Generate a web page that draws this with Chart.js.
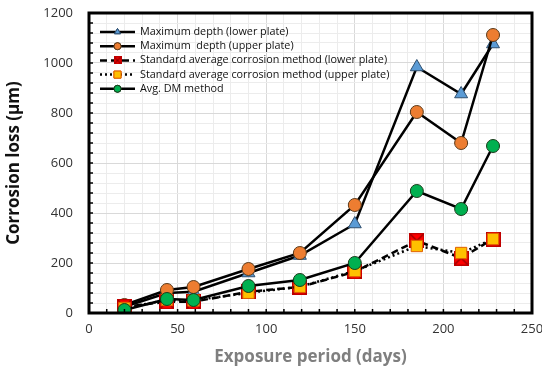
<!doctype html>
<html>
<head>
    <meta charset="utf-8" />
    <title>Corrosion loss</title>
    <script src="https://cdn.jsdelivr.net/npm/chart.js@4/dist/chart.umd.min.js"></script>
    <style>
        body { margin: 0; background: #fff; }
        #wrap { width: 542px; height: 371px; }
    </style>
</head>
<body>
<div id="wrap"><canvas id="lossChart" width="542" height="371"></canvas></div>
<script>
    // exposure period (days)
    var days = [20, 44, 59, 90, 119, 150, 185, 210, 228];
    var maxDepthLower = [25, 80, 85, 160, 230, 356, 984, 876, 1076];
    var maxDepthUpper = [32, 92, 104, 176, 240, 432, 804, 680, 1112];
    var stdLower = [25, 45, 45, 85, 104, 165, 289, 220, 296];
    var stdUpper = [20, 52, 50, 81, 105, 168, 268, 240, 296];
    var avgDM = [12, 56, 52, 108, 132, 200, 488, 416, 668];
    var xTicks = [0, 50, 100, 150, 200, 250];
    var yTicks = [0, 200, 400, 600, 800, 1000, 1200];

    var legendNames = [
        "Maximum depth (lower plate)",
        "Maximum  depth (upper plate)",
        "Standard average corrosion method (lower plate)",
        "Standard average corrosion method (upper plate)",
        "Avg. DM method"
    ];

    // red square with a cross, like the excel marker
    function crossSquare(size) {
        var c = document.createElement('canvas');
        c.width = size; c.height = size;
        var g = c.getContext('2d');
        g.fillStyle = '#ff0000';
        g.fillRect(0, 0, size, size);
        g.strokeStyle = '#8b0000';
        g.lineWidth = 1.2;
        g.beginPath();
        g.moveTo(1, 1); g.lineTo(size - 1, size - 1);
        g.moveTo(size - 1, 1); g.lineTo(1, size - 1);
        g.stroke();
        g.strokeStyle = '#c00000';
        g.strokeRect(0.5, 0.5, size - 1, size - 1);
        return c;
    }

    function pts(ys) {
        return days.map(function (d, i) { return { x: d, y: ys[i] }; });
    }

    var datasets = [
        {
            label: legendNames[0], data: pts(maxDepthLower), order: 4,
            borderColor: '#000', borderWidth: 2.5,
            pointStyle: 'triangle', pointRadius: 7.5,
            pointBackgroundColor: '#5b9bd5', pointBorderColor: '#2f4f6f', pointBorderWidth: 1
        },
        {
            label: legendNames[1], data: pts(maxDepthUpper), order: 3,
            borderColor: '#000', borderWidth: 2.5,
            pointStyle: 'circle', pointRadius: 6.5,
            pointBackgroundColor: '#ed7d31', pointBorderColor: '#5a3a1a', pointBorderWidth: 1
        },
        {
            label: legendNames[2], data: pts(stdLower), order: 2,
            borderColor: '#000', borderWidth: 2.5, borderDash: [7, 4],
            pointStyle: crossSquare(15), pointRadius: 7.5,
            pointBackgroundColor: '#ff0000', pointBorderColor: '#c00000'
        },
        {
            label: legendNames[3], data: pts(stdUpper), order: 1,
            borderColor: '#000', borderWidth: 2.5, borderDash: [2, 3],
            pointStyle: 'rect', pointRadius: 8,
            pointBackgroundColor: '#ffc000', pointBorderColor: '#e06000', pointBorderWidth: 1
        },
        {
            label: legendNames[4], data: pts(avgDM), order: 0,
            borderColor: '#000', borderWidth: 2.5,
            pointStyle: 'circle', pointRadius: 6.5,
            pointBackgroundColor: '#00b050', pointBorderColor: '#1a3a1a', pointBorderWidth: 1
        }
    ];

    // legend drawn inside the plot, top-left, with line + marker
    var insideLegend = {
        id: 'insideLegend',
        afterDraw: function (chart) {
            var ctx = chart.ctx;
            var x0 = 100, x1 = 135, tx = 140, y = 32, step = 14.2;
            ctx.save();
            datasets.forEach(function (ds, i) {
                var yy = y + i * step;
                ctx.strokeStyle = '#000';
                ctx.lineWidth = 2.5;
                ctx.setLineDash(ds.borderDash || []);
                ctx.beginPath();
                ctx.moveTo(x0, yy); ctx.lineTo(x1, yy);
                ctx.stroke();
                ctx.setLineDash([]);
                var style = ds.pointStyle;
                if (typeof style !== 'string') {
                    ctx.drawImage(crossSquare(8), (x0 + x1) / 2 - 4, yy - 4);
                } else {
                    ctx.fillStyle = ds.pointBackgroundColor;
                    ctx.strokeStyle = ds.pointBorderColor;
                    ctx.lineWidth = 1;
                    Chart.helpers.drawPoint(ctx, { pointStyle: style, radius: style === 'rect' ? 5 : 3.5, borderWidth: 1 }, (x0 + x1) / 2, yy);
                    ctx.fill();
                    ctx.stroke();
                }
                ctx.fillStyle = '#111';
                ctx.font = '10.8px "Open Sans"';
                ctx.textAlign = 'left';
                ctx.textBaseline = 'middle';
                ctx.fillText(ds.label, tx, yy);
            });
            ctx.restore();
        }
    };

    // frame and inward tick marks
    var frame = {
        id: 'frame',
        afterDatasetsDraw: function (chart) {
            var a = chart.chartArea, ctx = chart.ctx;
            var xs = chart.scales.x, ys = chart.scales.y;
            ctx.save();
            ctx.strokeStyle = '#000';
            ctx.lineWidth = 1.5;
            ctx.beginPath();
            for (var v = 10; v < 250; v += 10) {
                var px = xs.getPixelForValue(v);
                ctx.moveTo(px, a.bottom); ctx.lineTo(px, a.bottom - 4);
            }
            for (var w = 40; w < 1200; w += 40) {
                var py = ys.getPixelForValue(w);
                ctx.moveTo(a.left, py); ctx.lineTo(a.left + 4, py);
            }
            ctx.stroke();
            ctx.lineWidth = 3;
            ctx.strokeRect(a.left, a.top, a.right - a.left, a.bottom - a.top);
            ctx.restore();
        }
    };

    var ctx = document.getElementById('lossChart').getContext('2d');
    var lossChart = new Chart(ctx, {
        type: 'line',
        data: { datasets: datasets },
        options: {
            responsive: false,
            animation: false,
            layout: { padding: { top: 13, right: 6, left: 0, bottom: 0 } },
            plugins: { legend: { display: false }, tooltip: { enabled: false } },
            scales: {
                x: {
                    type: 'linear', min: 0, max: 250,
                    afterFit: function (s) { s.height = 58; s.paddingLeft = 0; s.paddingRight = 0; },
                    afterBuildTicks: function (s) {
                        var t = [];
                        for (var v = 0; v <= 250; v += 10) t.push({ value: v });
                        s.ticks = t;
                    },
                    ticks: {
                        autoSkip: false, maxRotation: 0, padding: 8,
                        color: '#333', font: { family: 'Open Sans', size: 13 },
                        callback: function (v) { return xTicks.indexOf(v) >= 0 ? String(v) : ''; }
                    },
                    grid: {
                        color: function (c) { return c.tick && c.tick.value % 50 === 0 ? '#d9d9d9' : '#ececec'; },
                        lineWidth: 1, drawTicks: false
                    },
                    border: { display: false },
                    title: {
                        display: true, text: 'Exposure period (days)', color: '#7f7f7f',
                        font: { family: 'Open Sans', size: 17, weight: 'bold' }, padding: { top: 2 }
                    }
                },
                y: {
                    min: 0, max: 1200,
                    afterFit: function (s) { s.width = 89; s.paddingTop = 0; s.paddingBottom = 0; },
                    afterBuildTicks: function (s) {
                        var t = [];
                        for (var v = 0; v <= 1200; v += 40) t.push({ value: v });
                        s.ticks = t;
                    },
                    ticks: {
                        autoSkip: false, padding: 16,
                        color: '#333', font: { family: 'Open Sans', size: 13 },
                        callback: function (v) { return yTicks.indexOf(v) >= 0 ? String(v) : ''; }
                    },
                    grid: {
                        color: function (c) { return c.tick && c.tick.value % 200 === 0 ? '#d9d9d9' : '#ececec'; },
                        lineWidth: 1, drawTicks: false
                    },
                    border: { display: false },
                    title: {
                        display: true, text: 'Corrosion loss (\u03bcm)', color: '#111',
                        font: { family: 'Open Sans', size: 17, weight: 'bold' }, padding: { bottom: 4 }
                    }
                }
            }
        },
        plugins: [frame, insideLegend]
    });
</script>
</body>
</html>
